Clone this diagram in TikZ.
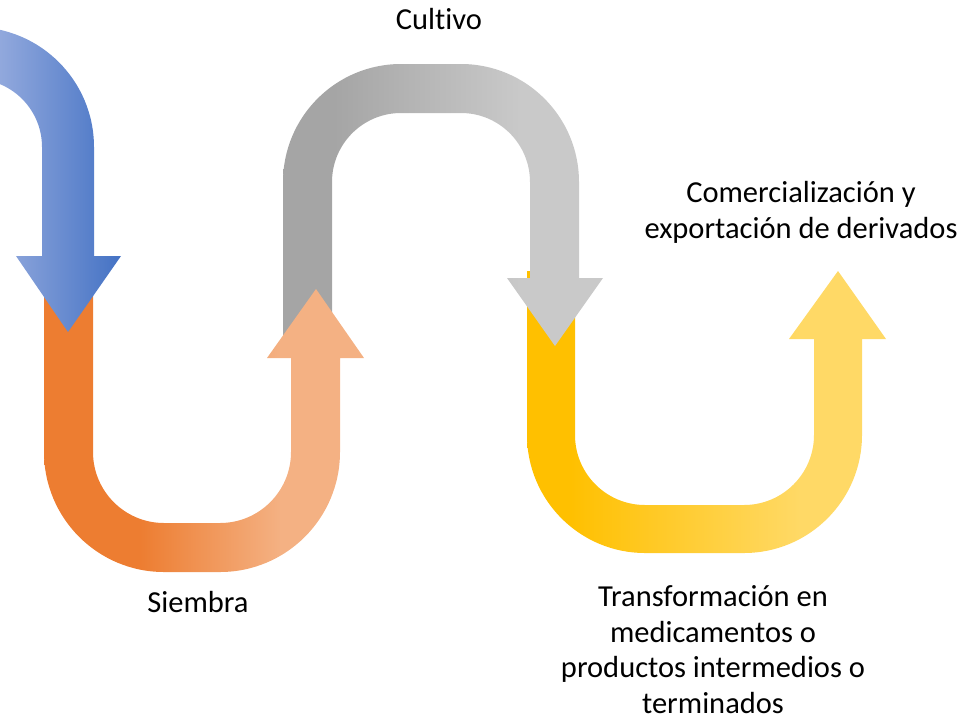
\documentclass[tikz,border=0pt]{standalone}
\usepackage{fontspec}
\setmainfont{Carlito}[Ligatures={NoCommon}]
\definecolor{bluL}{HTML}{A2B4E2}
\definecolor{bluR}{HTML}{4472C4}
\definecolor{oraL}{HTML}{ED7D31}
\definecolor{oraR}{HTML}{F4B183}
\definecolor{graL}{HTML}{A5A5A5}
\definecolor{graR}{HTML}{C9C9C9}
\definecolor{yelL}{HTML}{FFC000}
\definecolor{yelR}{HTML}{FFD966}
\pgfdeclarehorizontalshading{blueshade}{100bp}{color(0bp)=(bluL); color(25bp)=(bluL); color(75bp)=(bluR); color(100bp)=(bluR)}
\pgfdeclarehorizontalshading{orangeshade}{100bp}{color(0bp)=(oraL); color(40bp)=(oraL); color(62bp)=(oraR); color(100bp)=(oraR)}
\pgfdeclarehorizontalshading{grayshade}{100bp}{color(0bp)=(graL); color(33bp)=(graL); color(62bp)=(graR); color(100bp)=(graR)}
\pgfdeclarehorizontalshading{yellowshade}{100bp}{color(0bp)=(yelL); color(31bp)=(yelL); color(63bp)=(yelR); color(100bp)=(yelR)}
\tikzset{
  lbl/.style={font=\fontsize{30.5}{35.5}\selectfont, align=center, inner sep=0pt, text=black},
}
\begin{document}
\begin{tikzpicture}[x=1pt,y=-1pt]
\useasboundingbox (0,0) rectangle (964,721);
\clip (0,0) rectangle (964,721);
% yellow U arrow (drawn first)
\shade[shading=yellowshade]
  (527,271) -- (527,435) arc[start angle=180, end angle=90, radius=118]
  -- (744,553) arc[start angle=90, end angle=0, radius=118]
  -- (862,339) -- (886,339) -- (838,271) -- (789,339) -- (814,339)
  -- (814,435) arc[start angle=0, end angle=90, radius=70]
  -- (645,505) arc[start angle=90, end angle=180, radius=70]
  -- (575,271) -- cycle;
% gray inverted U arrow
\shade[shading=grayshade]
  (283,355) -- (283,182) arc[start angle=180, end angle=270, radius=118]
  -- (461,64) arc[start angle=270, end angle=360, radius=118]
  -- (579,278) -- (603,278) -- (555,346) -- (507,278) -- (530,278)
  -- (530,182) arc[start angle=360, end angle=270, radius=69]
  -- (401,113) arc[start angle=270, end angle=180, radius=69]
  -- (332,355) -- cycle;
% orange U arrow
\shade[shading=orangeshade]
  (44,270) -- (44,452) arc[start angle=180, end angle=90, radius=120]
  -- (220,572) arc[start angle=90, end angle=0, radius=120]
  -- (340,358) -- (364,358) -- (316,289) -- (267,358) -- (291,358)
  -- (291,452) arc[start angle=0, end angle=90, radius=71]
  -- (164,523) arc[start angle=90, end angle=180, radius=71]
  -- (93,270) -- cycle;
% blue arrow entering from the left
\shade[shading=blueshade]
  (-26,27) arc[start angle=270, end angle=360, radius=120]
  -- (94,256) -- (121,256) -- (68,332) -- (16,256) -- (42,256)
  -- (42,147) arc[start angle=360, end angle=270, radius=68]
  -- cycle;
% labels (base anchor = baseline of the last line)
\node[lbl, anchor=base] (cultivo) at (439,29) {Cultivo};
\node[lbl, anchor=base] (siembra) at (198,612) {Siembra};
\node[lbl, anchor=base] (comerc) at (801,238) {Comercialización y\\exportación de derivados};
\node[lbl, anchor=base] (transf) at (713,713) {Transformación en\\medicamentos o\\productos intermedios o\\terminados};
\end{tikzpicture}
\end{document}
